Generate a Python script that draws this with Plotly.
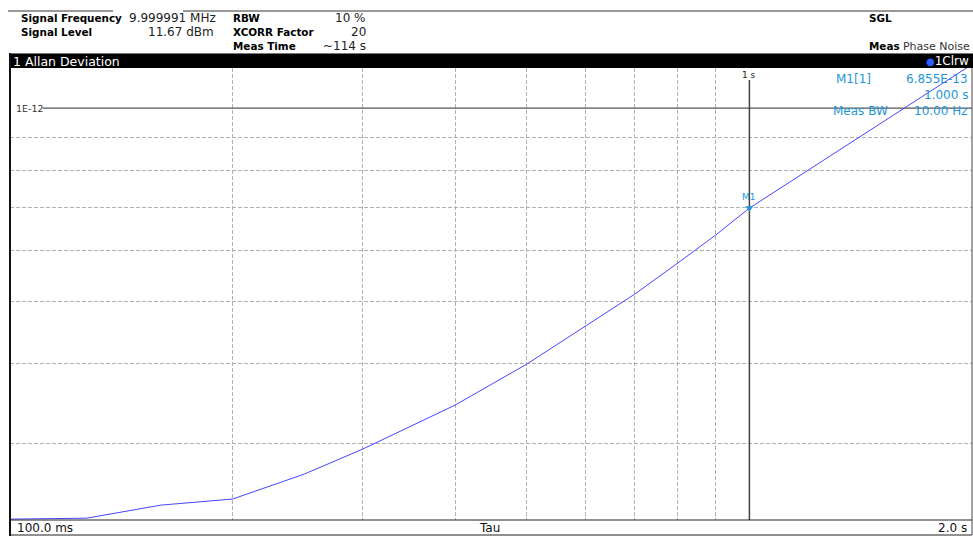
import math
import plotly.graph_objects as go

# ---- data ----
tau_s = [0.1, 0.106, 0.119, 0.127, 0.16, 0.2, 0.25, 0.3, 0.4, 0.5, 0.6, 0.7, 0.8, 0.9, 1.0, 1.5, 2.0]
adev = [0.2284e-12, 0.2285e-12, 0.2286e-12, 0.2292e-12, 0.2402e-12, 0.2455e-12, 0.2685e-12,
        0.2938e-12, 0.3441e-12, 0.3987e-12, 0.4569e-12, 0.5127e-12, 0.5732e-12, 0.6336e-12,
        0.6982e-12, 0.9449e-12, 1.170e-12]
grid_tau = [0.2, 0.3, 0.4, 0.5, 0.6, 0.7, 0.8, 0.9]
grid_adev = [0.3e-12, 0.4e-12, 0.5e-12, 0.6e-12, 0.7e-12, 0.8e-12, 0.9e-12]
ref_level = 1e-12
x_range = [0.1, 2.0]
y_range = [0.2277e-12, 1.155e-12]
marker_tau = 1.0
marker_text = "6.855E-13"

W, H = 973, 536
L, R, T, B = 10, 1, 68, 16
PW, PH = W - L - R, H - T - B

def X(px):
    return (px - L) / PW

def Y(py):
    return (H - B - py) / PH

lx0, lx1 = math.log10(x_range[0]), math.log10(x_range[1])
ly0, ly1 = math.log10(y_range[0]), math.log10(y_range[1])

def tau_at_px(px):
    return 10 ** (lx0 + X(px) * (lx1 - lx0))

def val_at_py(py):
    return 10 ** (ly0 + Y(py) * (ly1 - ly0))

FONT = "DejaVu Sans"
MC = "#1f96d8"

fig = go.Figure()
# reference level line (solid)
fig.add_trace(go.Scatter(x=[tau_at_px(43), x_range[1]], y=[ref_level, ref_level], mode="lines",
                         line=dict(color="#555", width=1.2), hoverinfo="skip"))
# marker line
fig.add_trace(go.Scatter(x=[marker_tau, marker_tau], y=[y_range[0], val_at_py(80)], mode="lines",
                         line=dict(color="#444", width=1.5), hoverinfo="skip"))
fig.add_trace(go.Scatter(x=tau_s, y=adev, mode="lines",
                         line=dict(color="#4646ff", width=1), hoverinfo="skip"))
mval = adev[tau_s.index(marker_tau)]
fig.add_trace(go.Scatter(x=[marker_tau], y=[mval], mode="markers",
                         marker=dict(symbol="triangle-down", size=7, color=MC), hoverinfo="skip"))

shapes = []
# header lines
shapes.append(dict(type="line", xref="paper", yref="paper", x0=X(8), x1=X(113), y0=Y(11), y1=Y(11),
                   line=dict(color="#333", width=1)))
shapes.append(dict(type="line", xref="paper", yref="paper", x0=X(183), x1=X(973), y0=Y(11), y1=Y(11),
                   line=dict(color="#333", width=1)))
# title bar
shapes.append(dict(type="rect", xref="paper", yref="paper", x0=X(10), x1=X(973), y0=Y(68), y1=Y(53),
                   fillcolor="#000", line=dict(width=0), layer="above"))
shapes.append(dict(type="line", xref="paper", yref="paper", x0=X(10), x1=X(973), y0=Y(53.5), y1=Y(53.5),
                   line=dict(color="#777", width=1), layer="above"))
# plot frame
shapes.append(dict(type="line", xref="paper", yref="paper", x0=0, x1=1, y0=0, y1=0,
                   line=dict(color="#222", width=1)))
shapes.append(dict(type="line", xref="paper", yref="paper", x0=X(972), x1=X(972), y0=Y(68), y1=Y(535),
                   line=dict(color="#444", width=1)))
# bottom bar
shapes.append(dict(type="line", xref="paper", yref="paper", x0=0, x1=X(972), y0=Y(535), y1=Y(535),
                   line=dict(color="#222", width=1)))
# left thick border
shapes.append(dict(type="line", xref="paper", yref="paper", x0=X(10), x1=X(10), y0=Y(53), y1=Y(536),
                   line=dict(color="#111", width=2), layer="above"))

ann = []
def text(px, py, s, size=12, color="#000", anchor="left", bold=False):
    if bold:
        s = "<b>" + s + "</b>"
    ann.append(dict(xref="paper", yref="paper", x=X(px), y=Y(py), text=s, showarrow=False,
                    xanchor=anchor, yanchor="middle", font=dict(family=FONT, size=size, color=color)))

BS = 10.4
text(19, 18, "Signal Frequency", BS, bold=True)
text(218, 18, "9.999991 MHz", 12, "#222", "right")
text(19, 32, "Signal Level", BS, bold=True)
text(216, 32, "11.67 dBm", 12, "#222", "right")
text(231, 18, "RBW", BS, bold=True)
text(368, 18, "10 %", 12, "#222", "right")
text(231, 32, "XCORR Factor", BS, bold=True)
text(368, 32, "20", 12, "#222", "right")
text(231, 46, "Meas Time", BS, bold=True)
text(368, 46, "~114 s", 12, "#222", "right")
text(867, 18, "SGL", BS, bold=True)
text(867, 46, "<b>Meas</b> <span style='font-size:11px;color:#333'>Phase Noise</span>", BS)
text(11, 61, "1 Allan Deviation", 12.5, "#fff")
text(971, 61, "<span style='color:#2a5cff;font-size:10px'>●</span>1Clrw", 12, "#fff", "right")
text(14, 108, "1E-12", 9.5, "#333")
text(15, 528, "100.0 ms", 12, "#111")
text(477, 528, "Tau", 12, "#111")
text(969, 528, "2.0 s", 12, "#111", "right")
text(834, 79, "M1[1]", 12, MC)
text(970, 79, marker_text, 12, MC, "right")
text(970, 95, "1.000 s", 12, MC, "right")
text(831, 111, "Meas BW", 12, MC)
text(970, 111, "10.00 Hz", 12, MC, "right")

ann.append(dict(xref="x", yref="paper", x=math.log10(marker_tau), y=Y(75), text="1 s", showarrow=False,
                xanchor="center", yanchor="middle", font=dict(family=FONT, size=9, color="#222")))
ann.append(dict(xref="x", yref="y", x=math.log10(marker_tau), y=math.log10(mval), text="M1", showarrow=False,
                yshift=11, xanchor="center", yanchor="middle", font=dict(family=FONT, size=9, color=MC)))

GRID = dict(showticklabels=False, ticks="", showgrid=True, gridcolor="#b0b0b0", griddash="4px,2px",
            gridwidth=1, zeroline=False, showline=False, fixedrange=True)
fig.update_layout(
    width=W, height=H, margin=dict(l=L, r=R, t=T, b=B), autosize=False,
    paper_bgcolor="white", plot_bgcolor="white", showlegend=False,
    shapes=shapes, annotations=ann,
    xaxis=dict(type="log", range=[lx0, lx1], tickvals=grid_tau, **GRID),
    yaxis=dict(type="log", range=[ly0, ly1], tickvals=grid_adev, **GRID),
)
fig.write_html("out.html", config={"displayModeBar": False})
